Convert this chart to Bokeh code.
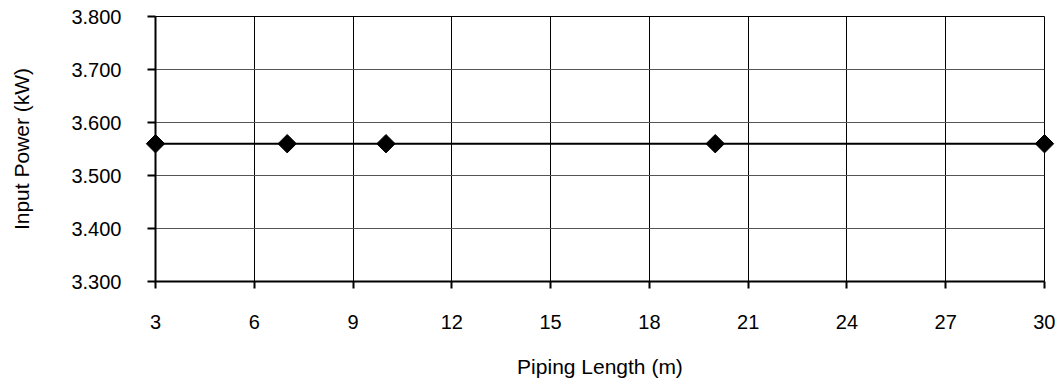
import math
from bokeh.plotting import figure
from bokeh.models import FixedTicker, NumeralTickFormatter, Range1d
from bokeh.embed import file_html
from bokeh.resources import INLINE

piping_length = [3, 7, 10, 20, 30]
input_power = [3.56, 3.56, 3.56, 3.56, 3.56]
x_ticks = [3, 6, 9, 12, 15, 18, 21, 24, 27, 30]
y_ticks = [3.3, 3.4, 3.5, 3.6, 3.7, 3.8]

FONT = "Liberation Sans"

p = figure(width=1055, height=380, output_backend="svg", toolbar_location=None,
           x_range=Range1d(3, 30), y_range=Range1d(3.3, 3.8),
           min_border_left=155, min_border_right=11, min_border_top=16, min_border_bottom=94)

p.background_fill_color = "white"
p.border_fill_color = "white"
p.outline_line_color = "black"
p.outline_line_width = 1

p.xaxis.ticker = FixedTicker(ticks=x_ticks)
p.yaxis.ticker = FixedTicker(ticks=y_ticks)
p.yaxis.formatter = NumeralTickFormatter(format="0.000")

for ax in (p.xaxis, p.yaxis):
    ax.axis_line_color = "black"
    ax.axis_line_width = 2
    ax.major_tick_line_color = "black"
    ax.major_tick_line_width = 2
    ax.major_tick_in = 0
    ax.minor_tick_line_color = None
    ax.major_label_text_font = FONT
    ax.major_label_text_font_size = "20px"
    ax.major_label_text_color = "black"
    ax.axis_label_text_font = FONT
    ax.axis_label_text_font_size = "21px"
    ax.axis_label_text_font_style = "normal"
    ax.axis_label_text_color = "black"

p.xaxis.major_tick_out = 7
p.yaxis.major_tick_out = 8
p.xaxis.major_label_standoff = 26
p.yaxis.major_label_standoff = 26
p.xaxis.axis_label = "Piping Length (m)"
p.yaxis.axis_label = "Input Power (kW)"
p.xaxis.axis_label_standoff = 23
p.yaxis.axis_label_standoff = 35

p.xgrid.grid_line_color = "black"
p.xgrid.grid_line_width = 1
p.ygrid.grid_line_color = "#555555"
p.ygrid.grid_line_width = 1

p.line(piping_length, input_power, line_color="black", line_width=2)
r = p.scatter(piping_length, input_power, marker="square", size=13, angle=math.pi / 4,
              fill_color="black", line_color="black")
r.level = "overlay"

open("out.html", "w").write(file_html(p, INLINE))
